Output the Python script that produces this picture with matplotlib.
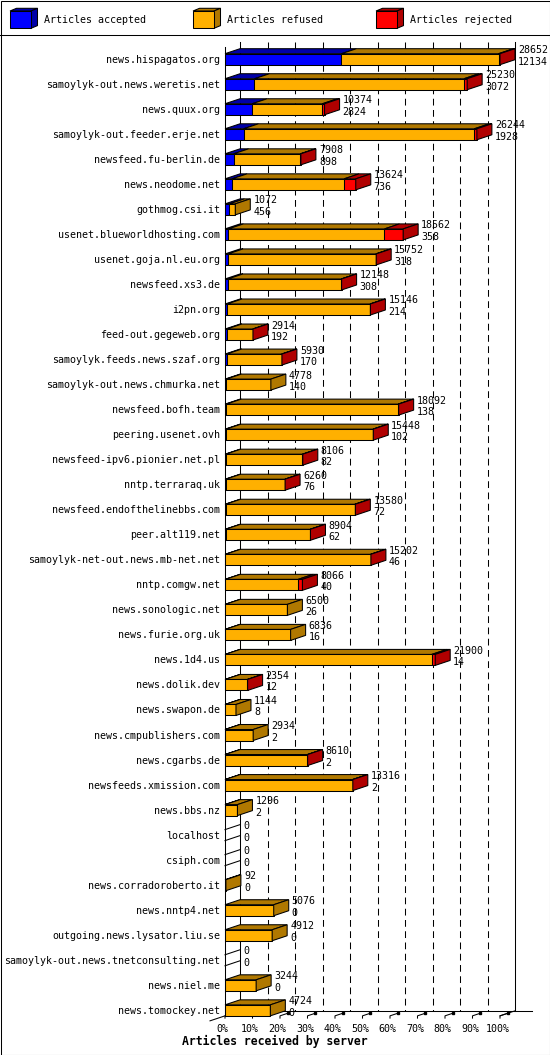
import matplotlib
matplotlib.use("Agg")
import matplotlib.pyplot as plt
from matplotlib.patches import Polygon, Rectangle

# Data
servers = [
    "news.hispagatos.org", "samoylyk-out.news.weretis.net", "news.quux.org",
    "samoylyk-out.feeder.erje.net", "newsfeed.fu-berlin.de", "news.neodome.net",
    "gothmog.csi.it", "usenet.blueworldhosting.com", "usenet.goja.nl.eu.org",
    "newsfeed.xs3.de", "i2pn.org", "feed-out.gegeweb.org",
    "samoylyk.feeds.news.szaf.org", "samoylyk-out.news.chmurka.net",
    "newsfeed.bofh.team", "peering.usenet.ovh", "newsfeed-ipv6.pionier.net.pl",
    "nntp.terraraq.uk", "newsfeed.endofthelinebbs.com", "peer.alt119.net",
    "samoylyk-net-out.news.mb-net.net", "nntp.comgw.net", "news.sonologic.net",
    "news.furie.org.uk", "news.1d4.us", "news.dolik.dev", "news.swapon.de",
    "news.cmpublishers.com", "news.cgarbs.de", "newsfeeds.xmission.com",
    "news.bbs.nz", "localhost", "csiph.com", "news.corradoroberto.it",
    "news.nntp4.net", "outgoing.news.lysator.liu.se",
    "samoylyk-out.news.tnetconsulting.net", "news.niel.me", "news.tomockey.net",
]
offered = [28652, 25230, 10374, 26244, 7908, 13624, 1072, 18562, 15752, 12148,
           15146, 2914, 5930, 4778, 18092, 15448, 8106, 6260, 13580, 8904,
           15202, 8066, 6500, 6836, 21900, 2354, 1144, 2934, 8610, 13316,
           1296, 0, 0, 92, 5076, 4912, 0, 3244, 4724]
accepted = [12134, 3072, 2824, 1928, 898, 736, 456, 358, 318, 308,
            214, 192, 170, 140, 138, 102, 82, 76, 72, 62,
            46, 40, 26, 16, 14, 12, 8, 2, 2, 2,
            2, 0, 0, 0, 0, 0, 0, 0, 0]
# rejected counts are not printed; estimated from the red segments
rejected = [150, 330, 230, 270, 60, 1220, 0, 1950, 40, 30,
            40, 20, 30, 0, 50, 30, 40, 20, 50, 30,
            30, 440, 0, 0, 360, 20, 0, 0, 20, 30,
            0, 0, 0, 0, 0, 0, 0, 0, 0]
refused = [o - a - r for o, a, r in zip(offered, accepted, rejected)]

series = ["Articles accepted", "Articles refused", "Articles rejected"]
front_colors = ["#0000ff", "#ffb000", "#ff0000"]
dark_colors = ["#0000a8", "#b07800", "#b00000"]
pct_ticks = list(range(0, 101, 10))

W, H_FIG = 550, 1055
fig = plt.figure(figsize=(W / 100, H_FIG / 100), dpi=100)
fig.patch.set_facecolor("white")

n = len(servers)
row_px = 25.03
top_px = 59.2 - 0.5 * row_px
bot_px = 59.2 + (n - 0.5) * row_px
ax = fig.add_axes([225 / W, 1 - bot_px / H_FIG, 275 / W, (bot_px - top_px) / H_FIG])
ax.set_xlim(0, 100)
ax.set_ylim(n - 0.5, -0.5)
ax.axis("off")

px_x = 2.75
DX = 15 / px_x          # depth to the right
DY = 5 / row_px         # depth upwards
HH = 5.5 / row_px       # half height of the bar front
LW = 0.75
mono = "DejaVu Sans Mono"
FS = 7.2

y_top = -0.69
floor_front = (n - 1) + HH
floor_back = floor_front - DY

# back wall grid
for p in pct_ticks[1:-1]:
    ax.plot([p + DX, p + DX], [y_top, floor_back], color="black", lw=LW,
            dashes=(6.5, 4.3), clip_on=False, zorder=1)
ax.plot([DX, DX], [y_top, floor_back], color="black", lw=LW, clip_on=False, zorder=1)
ax.plot([100 + DX, 100 + DX], [y_top, floor_back], color="black", lw=LW,
        clip_on=False, zorder=1)
ax.plot([0, 0], [y_top + DY, floor_front], color="black", lw=LW, clip_on=False, zorder=5)

# floor
ax.plot([DX, 111.6], [floor_back, floor_back], color="black", lw=LW, clip_on=False, zorder=1)
ax.plot([-DX, DX], [floor_front + DY, floor_back], color="black", lw=LW, clip_on=False, zorder=1)
ax.plot([100, 100 + DX], [floor_front, floor_back], color="black", lw=LW, clip_on=False, zorder=1)
for p in pct_ticks:
    ax.plot([p, p, p + DX / 2], [floor_front + 0.09, floor_front, floor_front - DY / 2],
            color="black", lw=LW, clip_on=False, zorder=1)
    ax.plot([p + DX / 2], [floor_front - DY / 2], marker="s", ms=1.6, color="black",
            clip_on=False, zorder=1)
    ax.text(p - 0.9, floor_front + 0.52, f"{p}%", ha="center", va="center",
            fontsize=FS, family=mono, clip_on=False)

scale = 100.0 / max(offered)
for i in range(n):
    vals = [accepted[i], refused[i], rejected[i]]
    x0 = 0.0
    yb, yt = i + HH, i - HH
    last = None
    for k, v in enumerate(vals):
        if v > 0:
            last = k
    for k, v in enumerate(vals):
        if v <= 0:
            continue
        x1 = x0 + v * scale
        ax.add_patch(Polygon([(x0, yt), (x0 + DX, yt - DY), (x1 + DX, yt - DY), (x1, yt)],
                             closed=True, fc=dark_colors[k], ec="black", lw=LW,
                             clip_on=False, zorder=3))
        ax.add_patch(Rectangle((x0, yt), x1 - x0, yb - yt, fc=front_colors[k],
                               ec="black", lw=LW, clip_on=False, zorder=3))
        x0 = x1
    if last is None:
        # empty bar: only the two depth edges are left
        for yy in (yt, yb):
            ax.plot([0, DX], [yy, yy - DY], color="black", lw=LW, clip_on=False, zorder=3)
    else:
        ax.add_patch(Polygon([(x0, yt), (x0 + DX, yt - DY), (x0 + DX, yb - DY), (x0, yb)],
                             closed=True, fc=dark_colors[last], ec="black", lw=LW,
                             clip_on=False, zorder=3))
    tx = x0 + DX + 3 / px_x
    ax.text(tx, yt - 0.02, str(offered[i]), ha="left", va="baseline",
            fontsize=FS, family=mono, clip_on=False, zorder=6)
    ax.text(tx, yb, str(accepted[i]), ha="left", va="baseline",
            fontsize=FS, family=mono, clip_on=False, zorder=6)
    ax.text(-5 / px_x, i + 0.14, servers[i], ha="right", va="baseline",
            fontsize=FS, family=mono, clip_on=False)

fig.text(0.5, 1 - 1041.5 / H_FIG, "Articles received by server", ha="center",
         va="center", fontsize=8.3, family=mono, fontweight="bold")

# legend strip
LEG_H = 34.5
lax = fig.add_axes([0, 1 - LEG_H / H_FIG, 1, LEG_H / H_FIG])
lax.set_xlim(0, W)
lax.set_ylim(LEG_H, 0)
lax.axis("off")
bw, bh, ddx, ddy = 21, 17.3, 6.5, 2.7
for k, name in enumerate(series):
    bx, by = 10 + 183 * k, 11
    lax.add_patch(Polygon([(bx, by), (bx + ddx, by - ddy), (bx + bw + ddx, by - ddy), (bx + bw, by)],
                          closed=True, fc=dark_colors[k], ec="black", lw=LW))
    lax.add_patch(Polygon([(bx + bw, by), (bx + bw + ddx, by - ddy),
                           (bx + bw + ddx, by + bh - ddy), (bx + bw, by + bh)],
                          closed=True, fc=dark_colors[k], ec="black", lw=LW))
    lax.add_patch(Rectangle((bx, by), bw, bh, fc=front_colors[k], ec="black", lw=LW))
    lax.text(bx + 34, 20.2, name, ha="left", va="center", fontsize=FS, family=mono)

# frame lines
fig.add_artist(Rectangle((0.5 / W, 0.5 / H_FIG), (W - 1) / W, (H_FIG - 1) / H_FIG,
                         transform=fig.transFigure, fill=False, ec="black", lw=LW))
fig.add_artist(plt.Line2D([0, 1], [1 - LEG_H / H_FIG, 1 - LEG_H / H_FIG],
                          transform=fig.transFigure, color="black", lw=LW))

fig.savefig("out.png", dpi=100)
